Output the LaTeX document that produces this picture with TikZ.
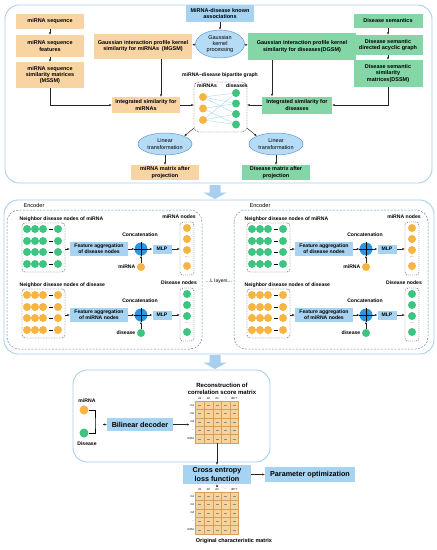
\documentclass[tikz,border=0pt]{standalone}
\usepackage{fontspec}
\setmainfont{Liberation Sans}
\usetikzlibrary{arrows.meta,shapes.geometric,calc}

\definecolor{boxorange}{HTML}{F9D4A3}
\definecolor{boxgreen}{HTML}{84D6A7}
\definecolor{boxblue}{HTML}{A5D3F1}
\definecolor{frameblue}{HTML}{A8D0EE}
\definecolor{encline}{HTML}{6A8CB3}
\definecolor{dotorange}{HTML}{F6B443}
\definecolor{dotgreen}{HTML}{3EC480}
\definecolor{ellfill}{HTML}{B6DBF4}
\definecolor{ellline}{HTML}{5C9BD6}
\definecolor{catblue}{HTML}{2C97DD}
\definecolor{cellfill}{HTML}{F8D29B}
\definecolor{cellline}{HTML}{D6A05B}
\definecolor{edgeblue}{HTML}{B9DDF3}

\tikzset{
  txt/.style={font=\fontsize{5.5}{6.3}\selectfont\bfseries, align=center, inner sep=0.5pt},
  small/.style={font=\fontsize{5.1}{5.8}\selectfont\bfseries},
  big/.style={font=\fontsize{7.2}{8.2}\selectfont\bfseries},
  tiny/.style={font=\fontsize{2.8}{3}\selectfont, inner sep=0.3pt},
  boxo/.style={txt, fill=boxorange, inner sep=0pt},
  boxg/.style={txt, fill=boxgreen, inner sep=0pt},
  boxb/.style={txt, fill=boxblue, inner sep=0pt},
  ell/.style={ellipse, draw=ellline, line width=0.5pt, fill=ellfill, inner sep=0pt,
    font=\fontsize{5.5}{6.3}\selectfont, align=center},
  ndot/.style={circle, fill=#1, inner sep=0pt, minimum size=8pt},
  arr/.style={-{Latex[length=2.4pt,width=2.2pt]}, line width=0.45pt, draw=black!85},
  panel/.style={draw=frameblue, line width=0.9pt, rounded corners=14pt},
  encbox/.style={draw=encline, line width=0.5pt, dash pattern=on 2pt off 1.4pt, rounded corners=12pt},
  dotbox/.style={draw=black!80, line width=0.4pt, dash pattern=on 0.8pt off 0.8pt, rounded corners=3pt, inner sep=0pt},
  downarrow/.pic={\fill[frameblue] (-5.5,0) -- (5.5,0) -- (5.5,7.5) -- (12,7.5) -- (0,14) -- (-12,7.5) -- (-5.5,7.5) -- cycle;}
}

% one half of an encoder: shift, prefix, grid colour, node colour, title, feature text, column label, input label
\newcommand{\encpart}[8]{%
\begin{scope}[shift={(#1)}, name prefix=#2]
\node[txt, small, anchor=west] (title) at (19,219) {#5};
\node[dotbox, minimum width=43pt, minimum height=49pt] (grid) at (43.5,247.5) {};
\foreach \yy in {229,241,252,264}{
  \foreach \xx in {27,35,43,58} \node[ndot=#3] (n\xx-\yy) at (\xx,\yy) {};
  \draw[line width=0.4pt] (48.5,\yy) -- (52.5,\yy);
}
\node[boxb, small, minimum width=58pt, minimum height=14pt] (feat) at (99,249) {#6};
\node[circle, fill=catblue, minimum size=13pt, inner sep=0pt] (cat) at (141,249) {};
\draw[line width=0.5pt] (cat.north) -- (cat.south) (cat.west) -- (cat.east);
\node[txt, small] (catlbl) at (140,235) {Concatenation};
\node[boxb, small, minimum width=19pt, minimum height=9pt] (mlp) at (162,249) {MLP};
\node[dotbox, dash pattern=on 1pt off 1pt, minimum width=14pt, minimum height=53pt] (col) at (187,248.5) {};
\foreach \yy in {228,239,250,266} \node[ndot=#4] (c\yy) at (187,\yy) {};
\node[tiny, font=\fontsize{4}{4}\selectfont] (cdots) at (187,257) {...};
\node[txt, small] (collbl) at (179,217) {#7};
\node[ndot=#4] (one) at (141,267) {};
\node[txt, small, anchor=east] (onelbl) at (136,267) {#8};
\draw[arr] (feat.west -| grid.east) -- (feat.west);
\draw[arr] (feat) -- (cat);
\draw[arr] (cat) -- (mlp);
\draw[arr] (mlp) -- (mlp -| col.west);
\draw[arr] (one) -- (cat);
\end{scope}}

% score matrix: prefix, top left corner
\newcommand{\scoremat}[2]{%
\begin{scope}[shift={(#2)}, name prefix=#1]
\foreach \i in {0,...,4}{
  \foreach \j in {0,...,4}{
    \draw[cellline, fill=cellfill, line width=0.4pt] ({\i*8.6},{\j*8.4}) rectangle ++(8.6,8.4);
    \draw[black!45, line width=0.3pt] ({\i*8.6+2.8},{\j*8.4+4.2}) -- ++(3,0);
  }
}
\node[inner sep=0pt, minimum width=43pt, minimum height=42pt] (mat) at (21.5,21) {};
\node[tiny] (h1) at (4.3,-2.5) {d1};
\node[tiny] (h2) at (12.9,-2.5) {d2};
\node[tiny] (h3) at (21.5,-2.5) {d3};
\node[tiny] (h4) at (30.1,-2.5) {...};
\node[tiny] (h5) at (38.7,-2.5) {d877};
\node[tiny, anchor=east] (r1) at (-0.8,4.2) {m1};
\node[tiny, anchor=east] (r2) at (-0.8,12.6) {m2};
\node[tiny, anchor=east] (r3) at (-0.8,21) {m3};
\node[tiny, anchor=east] (r4) at (-0.8,29.4) {...};
\node[tiny, anchor=east] (r5) at (-0.8,37.8) {m661};
\end{scope}}

\begin{document}
\begin{tikzpicture}[x=1pt, y=-1pt]
\useasboundingbox (0,0) rectangle (437,550);
\fill[white] (0,0) rectangle (437,550);

% similarity part
\draw[panel] (5,5) rectangle (432,183);
\node[boxo, minimum width=68pt, minimum height=15pt] (seq) at (50,21) {miRNA sequence};
\node[boxo, minimum width=68pt, minimum height=22pt] (seqfeat) at (50,46) {miRNA sequence\\features};
\node[boxo, minimum width=68pt, minimum height=26pt] (mssm) at (50,75) {miRNA sequence\\similarity matrices\\(MSSM)};
\node[boxb, minimum width=68pt, minimum height=17pt] (assoc) at (220,13.5) {MiRNA-disease known\\associations};
\node[ell, minimum width=49pt, minimum height=28pt] (gauss) at (220,44) {Gaussian\\kernel\\processing};
\node[boxo, minimum width=98pt, minimum height=25pt] (mgsm) at (143,46) {Gaussian interaction profile kernel\\similarity for miRNAs\enspace(MGSM)};
\node[boxg, minimum width=108pt, minimum height=27pt] (dgsm) at (302,46.5) {Gaussian interaction profile kernel\\similarity for diseases(DGSM)};
\node[boxg, minimum width=69pt, minimum height=14pt] (dsem) at (388,21) {Disease semantics};
\node[boxg, minimum width=69pt, minimum height=20pt] (ddag) at (388,45) {Disease semantic\\directed acyclic graph};
\node[boxg, minimum width=69pt, minimum height=27pt] (dssm) at (388,73.5) {Disease semantic\\similarity\\matrices(DSSM)};
\node[boxo, minimum width=68pt, minimum height=16pt] (intm) at (146,105) {Integrated similarity for\\miRNAs};
\node[boxg, minimum width=70pt, minimum height=17pt] (intd) at (297,105) {Integrated similarity for\\diseases};
\draw[arr] (seq) -- (seqfeat);
\draw[arr] (seqfeat) -- (mssm);
\draw[arr] (dsem) -- (ddag);
\draw[arr] (ddag) -- (dssm);
\draw[arr] (assoc) -- (gauss);
\draw[arr] (gauss) -- (mgsm);
\draw[arr] (gauss) -- (dgsm);
\draw[arr] (mssm.south) |- (intm.west);
\draw[arr] (dssm.south) |- (intd.east);
\draw[arr] ([xshift=18pt]mgsm.south) -- ([xshift=18pt]mgsm.south |- intm.north);
\draw[arr] ([xshift=-30pt]dgsm.south) -- ([xshift=-30pt]dgsm.south |- intd.north);

\node[dotbox, minimum width=53pt, minimum height=50pt, rounded corners=5pt] (bip) at (220.5,107) {};
\node[txt, small] (biplbl) at (220,75.5) {miRNA--disease bipartite graph};
\node[txt, small] (mirs) at (207,86) {miRNAs};
\node[txt, small] (diss) at (237,86) {diseases};
\foreach \i/\y in {1/97,2/108.5,3/120} \node[ndot=dotorange] (o\i) at (203,\y) {};
\foreach \i/\y in {1/93,2/103.5,3/114,4/124.5} \node[ndot=dotgreen] (g\i) at (236,\y) {};
\foreach \a/\b in {1/1,1/3,2/2,2/4,3/1,3/3,1/2,3/4} \draw[edgeblue, line width=0.5pt] (o\a) -- (g\b);
\draw[arr] (intm.east) -- (intm.east -| bip.west);
\draw[arr] (intd.west) -- (intd.west -| bip.east);

\node[ell, minimum width=54pt, minimum height=22pt] (lin1) at (165,144) {Linear\\transformation};
\node[ell, minimum width=54pt, minimum height=22pt] (lin2) at (276,144) {Linear\\transformation};
\node[boxo, minimum width=68pt, minimum height=15pt] (projm) at (165,172.5) {miRNA matrix after\\projection};
\node[boxg, minimum width=68pt, minimum height=15pt] (projd) at (276,172.5) {Disease matrix after\\projection};
\draw[arr] ([yshift=4pt]bip.south west) -- (lin1.north east);
\draw[arr] ([yshift=4pt]bip.south east) -- (lin2.north west);
\draw[arr] (lin1) -- (projm);
\draw[arr] (lin2) -- (projd);

% encoder part
\pic at (215,185) {downarrow};
\draw[panel] (4,200) rectangle (434,354);
\draw[encbox] (7,210) rectangle (202,349);
\draw[encbox] (234,210) rectangle (428,349);
\node[font=\fontsize{5.6}{6}\selectfont, inner sep=0pt] (encA) at (34,205.5) {Encoder};
\node[font=\fontsize{5.6}{6}\selectfont, inner sep=0pt] (encB) at (260,205.5) {Encoder};
\node[font=\fontsize{5}{6}\selectfont, inner sep=0pt] (layers) at (219,281) {...L layers...};
\encpart{0,0}{a}{dotgreen}{dotorange}{Neighbor disease nodes of miRNA}{Feature aggregation\\of disease nodes}{miRNA nodes}{miRNA}
\encpart{0,66}{b}{dotorange}{dotgreen}{Neighbor disease nodes of disease}{Feature aggregation\\of miRNA nodes}{Disease nodes}{disease}
\encpart{225,0}{c}{dotgreen}{dotorange}{Neighbor disease nodes of miRNA}{Feature aggregation\\of disease nodes}{miRNA nodes}{miRNA}
\encpart{225,66}{d}{dotorange}{dotgreen}{Neighbor disease nodes of disease}{Feature aggregation\\of miRNA nodes}{Disease nodes}{disease}

% decoder part
\pic at (215,355) {downarrow};
\draw[panel] (73,370) rectangle (270,462);
\node[txt, font=\fontsize{6}{7}\selectfont\bfseries] (recon) at (222,389) {Reconstruction of\\correlation score matrix};
\scoremat{top}{195.5,401}
\node[ndot=dotorange, minimum size=9pt] (mir) at (84,410) {};
\node[txt, small] (mirlbl) at (87,401) {miRNA};
\node[ndot=dotgreen, minimum size=9pt] (dis) at (84,433) {};
\node[txt, small] (dislbl) at (87,443.5) {Disease};
\coordinate (brk) at (95,424.5);
\draw[line width=0.45pt] (mir.east) -| (brk) |- (dis.east);
\node[boxb, big, minimum width=66pt, minimum height=13pt] (bil) at (140,424.5) {Bilinear decoder};
\draw[arr] ([xshift=8pt]brk) -- (bil.west);
\draw[arr] (bil.east) -- ($(topmat.west |- bil.east)+(-6,0)$);

\node[boxb, big, minimum width=68pt, minimum height=19pt] (ce) at (217,474.5) {Cross entropy\\loss function};
\node[boxb, big, minimum width=90pt, minimum height=15pt] (param) at (310,474.5) {Parameter optimization};
\scoremat{bot}{195.5,492}
\node[txt] (orig) at (234,541.5) {Original characteristic matrix};
\draw[arr] (topmat.south) -- (topmat.south |- ce.north);
\draw[arr] ([yshift=5pt]botmat.north) -- (ce.south);
\draw[arr] (ce.east) -- (ce.east -| param.west);
\end{tikzpicture}
\end{document}
